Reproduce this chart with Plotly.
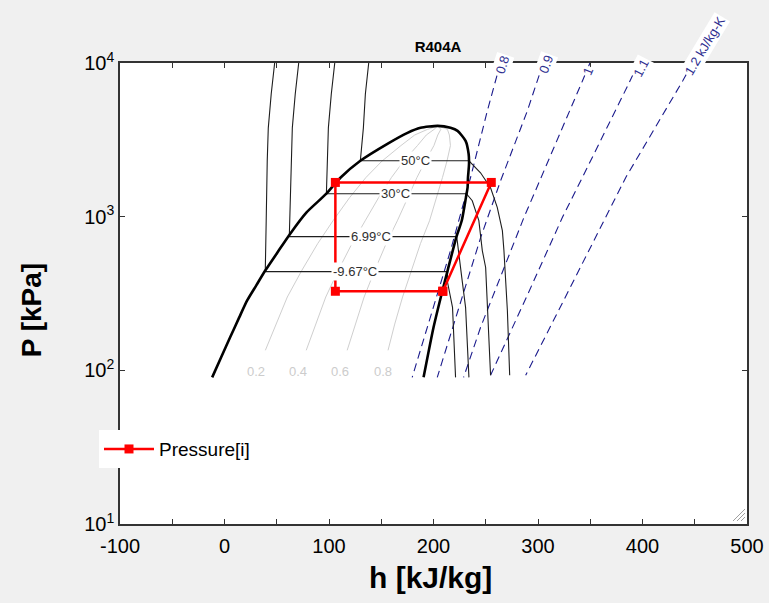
import math
import plotly.graph_objects as go

FONT = "Liberation Sans, Arial, sans-serif"

# Saturation dome of R404A: enthalpy h [kJ/kg] vs pressure P [kPa]
liq_h = [-11.8, -3.2, 5.4, 14.1, 21.7, 30.4, 39.0, 50.5, 62.9, 78.3, 97.5, 110.9, 130.0, 155.9, 175.1, 187.6, 204.0]
liq_P = [90, 121.5, 164, 221, 285, 357, 446, 583, 775, 1062, 1411, 1792, 2310, 2979, 3512, 3784, 3900]
vap_h = [216.3, 223.0, 230.7, 233.6, 234.0, 233.0, 232.6, 231.0, 227.0, 222.0, 213.5, 208.6, 200.0, 190.5]
vap_P = [3784, 3617, 3115, 2566, 2210, 1800, 1543, 1330, 940, 742, 446, 331, 190, 90]

# Isotherms (subcooled branch, saturation plateau, superheated branch)
iso_labels = ["-9.67°C", "6.99°C", "30°C", "50°C"]
iso_sat_P = [439, 742, 1411, 2310]
iso_h = [
    [48, 44.7, 41.9, 40.9, 39.9, 39.0, 213.5, 213.1, 218.2, 221.1],
    [71, 67.7, 64.9, 63.9, 62.0, 62.0, 222.0, 222.7, 227.1, 230.7, 233.9],
    [105.5, 102.2, 99.4, 98.4, 97.5, 231.5, 237.1, 243.4, 246.7, 249.9, 252.0, 254.6],
    [138, 134.8, 132.9, 130.0, 233.9, 245.0, 254.6, 261.0, 265.9, 267.4, 270.7, 272.9],
]
iso_P = [
    [10000, 6290, 3784, 2310, 942, 439, 439, 384, 257, 90],
    [10000, 6290, 3784, 2310, 942, 742, 742, 698, 400, 257, 90],
    [10000, 6290, 3784, 2310, 1411, 1411, 1270, 942, 602, 467, 245, 92.8],
    [10000, 6290, 3784, 2310, 2310, 1931, 1543, 1149, 811, 602, 245, 92.8],
]
iso_label_h = [125.2, 140.3, 163.6, 182.8]

# Constant-quality lines inside the dome
q_names = ["0.2", "0.4", "0.6", "0.8"]
q_P = [135, 200, 300, 446, 670, 940, 1330, 1800, 2300, 2900, 3400, 3700, 3900]
q_h = [
    [39.1, 49.4, 60.1, 73.9, 89.3, 103.8, 119.7, 135.4, 150.7, 168.8, 182.0, 194.3, 204],
    [78.2, 87.2, 96.9, 108.8, 122.1, 134.6, 147.5, 159.8, 171.4, 184.6, 193.1, 200.6, 204],
    [117.4, 125.1, 133.6, 143.7, 154.8, 165.4, 175.2, 184.2, 192.2, 200.4, 204.1, 207.0, 204],
    [156.5, 162.9, 170.4, 178.6, 187.6, 196.2, 203.0, 208.6, 212.9, 216.2, 215.2, 213.3, 204],
]
q_label_h = [30.4, 70.6, 110.9, 151.8]
q_label_P = 98.5

# Isentropes [kJ/kg-K]
s_names = ["0.8", "0.9", "1", "1.1", "1.2 kJ/kg-K"]
s_h = [
    [264.0, 259.4, 251.5, 235.5, 216.3, 179.6],
    [305.0, 299.4, 289.8, 264.2, 245.1, 203.6],
    [349.7, 342.5, 303.0, 286.6, 245.1, 228.8],
    [396.2, 385.7, 340.9, 323.4, 290.4, 254.6],
    [447.8, 438.4, 384.0, 364.9, 327.8, 288.2],
]
s_P = [
    [10000, 7638, 4880, 1800, 602, 90],
    [10000, 7638, 4880, 1713, 730, 90],
    [10000, 7638, 1800, 990, 191, 90],
    [10000, 7090, 1713, 990, 315, 92.8],
    [10000, 7638, 1800, 990, 315, 92.8],
]
s_label_h = [266.0, 307.5, 347.5, 399.0, 459.0]
s_label_P = [9800, 9800, 8870, 9320, 12900]
s_label_angle = [-72, -70, -67, -63, -59]

# Refrigeration cycle state points
cycle_h = [208.9, 255.3, 106.1, 106.1, 208.9]
cycle_P = [327, 1670, 1670, 327, 327]

x_ticks = [-100, 0, 100, 200, 300, 400, 500]
x_ticktext = ["-100", "0", "100", "200", "300", "400", "500"]
y_ticks = [10, 100, 1000, 10000]
y_ticktext = ["10<sup>1</sup>", "10<sup>2</sup>", "10<sup>3</sup>", "10<sup>4</sup>"]
y_range = [1, 4]

# plot-area geometry in pixels
L, R, T, B = 120, 747, 62.5, 524
PW, PH = R - L, B - T


def p_to_paper(P):
    """Vertical paper coordinate of a pressure on the log axis (may lie above the frame)."""
    return (math.log10(P) - y_range[0]) / (y_range[1] - y_range[0])


fig = go.Figure()

for hs in q_h:
    fig.add_trace(go.Scatter(x=hs, y=q_P, mode="lines", showlegend=False, hoverinfo="skip",
                             line=dict(color="#cfcfcf", width=1)))

for hs, Ps in zip(s_h, s_P):
    fig.add_trace(go.Scatter(x=hs, y=Ps, mode="lines", showlegend=False, hoverinfo="skip",
                             line=dict(color="#1a1a8c", width=1.1, dash="8px,5px")))

for hs, Ps in zip(iso_h, iso_P):
    fig.add_trace(go.Scatter(x=hs, y=Ps, mode="lines", showlegend=False, hoverinfo="skip",
                             line=dict(color="#1e1e1e", width=1.1)))

fig.add_trace(go.Scatter(x=liq_h + vap_h, y=liq_P + vap_P, mode="lines", showlegend=False,
                         hoverinfo="skip", line=dict(color="black", width=2.6, shape="spline",
                                                     smoothing=0.6)))

fig.add_trace(go.Scatter(x=cycle_h, y=cycle_P, mode="lines+markers", name="Pressure[i]",
                         line=dict(color="#ff0000", width=2.5),
                         marker=dict(symbol="square", size=9, color="#ff0000")))

annotations = []
for lab, h, P in zip(iso_labels, iso_label_h, iso_sat_P):
    annotations.append(dict(x=h, y=math.log10(P), xref="x", yref="y",
                            xanchor="center", yanchor="middle",
                            text=lab, showarrow=False, bgcolor="white", borderpad=1,
                            font=dict(family=FONT, size=13, color="#303030")))
for lab, h in zip(q_names, q_label_h):
    annotations.append(dict(x=h, y=math.log10(q_label_P), xref="x", yref="y", text=lab,
                            xanchor="center", yanchor="middle",
                            showarrow=False, font=dict(family=FONT, size=13, color="#cccccc")))
for lab, h, P, ang in zip(s_names, s_label_h, s_label_P, s_label_angle):
    annotations.append(dict(x=h, y=p_to_paper(P), xref="x", yref="paper", text=lab,
                            xanchor="center", yanchor="middle",
                            showarrow=False, textangle=ang, bgcolor="white", borderpad=1,
                            font=dict(family=FONT, size=13, color="#2e2e90")))

# axis titles
annotations.append(dict(x=(430 - L) / PW, y=-(578 - B) / PH, xref="paper", yref="paper",
                        xanchor="center", yanchor="middle",
                        text="<b>h [kJ/kg]</b>", showarrow=False,
                        font=dict(family=FONT, size=30, color="black")))
annotations.append(dict(x=-(L - 31) / PW, y=(B - 310) / PH, xref="paper", yref="paper",
                        xanchor="center", yanchor="middle",
                        text="<b>P [kPa]</b>", showarrow=False, textangle=-90,
                        font=dict(family=FONT, size=28, color="black")))

# window resize grip in the bottom-right corner
shapes = []
for d in (4, 8, 12):
    shapes.append(dict(type="line", xref="paper", yref="paper",
                       x0=(R - 2 - d - L) / PW, y0=3 / PH,
                       x1=(R - 2 - L) / PW, y1=(3 + d) / PH,
                       line=dict(color="#a0a0a0", width=1)))

fig.update_layout(
    width=769, height=603,
    margin=dict(l=L, r=769 - R, t=T, b=603 - B),
    paper_bgcolor="#f0f0f0",
    plot_bgcolor="white",
    title=dict(text="<b>R404A</b>", x=(438 - L) / PW, xref="paper", xanchor="center",
               y=1 - 46.7 / 603, yanchor="middle", font=dict(family=FONT, size=15, color="black")),
    annotations=annotations,
    shapes=shapes,
    showlegend=True,
    legend=dict(x=-21 / PW, y=(B - 430) / PH, xanchor="left", yanchor="top",
                bgcolor="white", borderwidth=0, itemwidth=50,
                font=dict(family=FONT, size=19, color="black")),
    xaxis=dict(range=[-100, 500], tickvals=x_ticks, ticktext=x_ticktext, ticks="inside",
               ticklen=5, tickcolor="#333", showline=True, linecolor="#333", linewidth=1.5,
               mirror="ticks", showgrid=False, zeroline=False, ticklabelstandoff=3,
               automargin=False,
               tickfont=dict(family=FONT, size=20, color="black"),
               minor=dict(dtick=50, ticks="inside", ticklen=5, tickcolor="#333")),
    yaxis=dict(type="log", range=y_range, tickvals=y_ticks, ticktext=y_ticktext,
               ticks="inside", ticklen=5, tickcolor="#333", showline=True, linecolor="#333",
               linewidth=1.5, mirror="ticks", showgrid=False, zeroline=False, automargin=False,
               tickfont=dict(family=FONT, size=20, color="black")),
)

fig.write_html("out.html")
